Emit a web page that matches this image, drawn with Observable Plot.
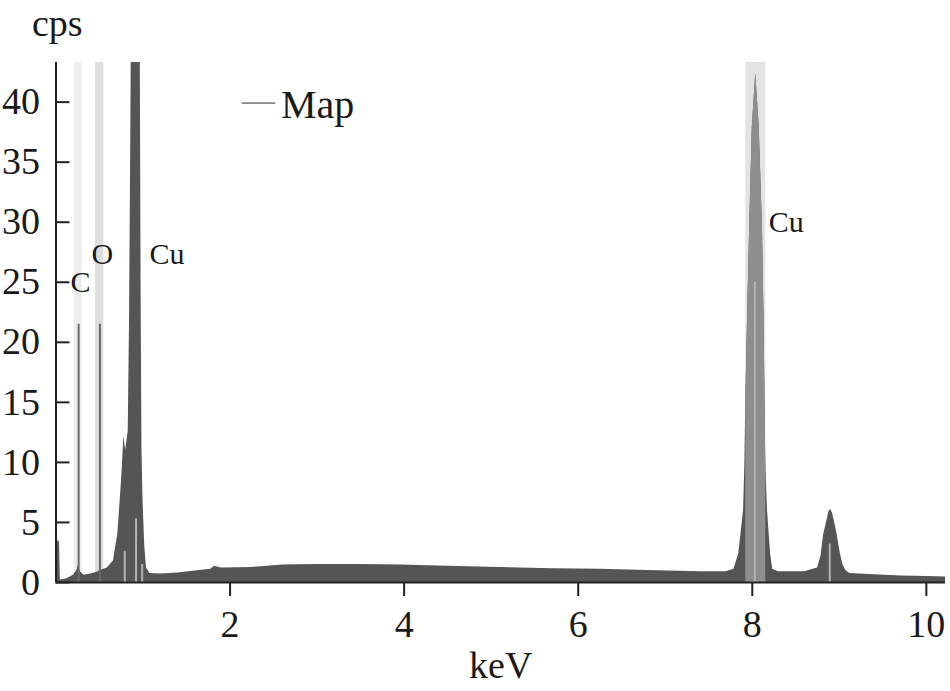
<!DOCTYPE html>
<html>
<head>
<meta charset="utf-8">
<script src="https://cdn.jsdelivr.net/npm/d3@7"></script>
<script src="https://cdn.jsdelivr.net/npm/@observablehq/plot@0.6"></script>
<style>
  html, body { margin: 0; padding: 0; background: #fff; }
  #chart { width: 950px; height: 691px; }
</style>
</head>
<body>
<div id="chart"></div>
<script>
// Spectrum (energy in keV, counts in cps)
const energyKeV = [
  0.005, 0.02, 0.04, 0.05, 0.12, 0.20, 0.24, 0.26, 0.28, 0.32, 0.40, 0.47, 0.51, 0.59, 0.66,
  0.71, 0.755, 0.78, 0.80, 0.83, 0.845, 0.86, 0.875, 0.965, 0.968, 0.978, 0.988, 1.00, 1.02,
  1.04, 1.08, 1.20, 1.40, 1.60, 1.78, 1.82, 1.90, 2.24, 2.61, 3.00, 3.50, 3.96, 4.50, 5.10,
  5.70, 6.26, 6.80, 7.41, 7.70, 7.79, 7.845, 7.90, 7.915, 7.925, 7.945, 7.97, 8.00, 8.04,
  8.08, 8.117, 8.135, 8.155, 8.175, 8.21, 8.235, 8.30, 8.60, 8.75, 8.79, 8.82, 8.857, 8.88,
  8.90, 8.92, 8.94, 8.975, 9.01, 9.04, 9.075, 9.12, 9.40, 9.71, 10.00, 10.22
];
const countsCps = [
  0.3, 3.5, 3.4, 0.2, 0.3, 0.6, 1.0, 1.5, 0.9, 0.6, 0.7, 0.85, 1.0, 1.2, 1.8,
  4.0, 8.7, 12.2, 11.0, 12.6, 22, 38, 60, 60, 45, 24, 11, 6.8, 3.0,
  1.2, 0.75, 0.7, 0.8, 0.95, 1.1, 1.35, 1.2, 1.25, 1.45, 1.5, 1.5, 1.45, 1.35, 1.25,
  1.15, 1.1, 1.0, 0.9, 0.9, 1.1, 2.4, 6.0, 9.9, 15, 21.8, 29.6, 37.9, 42.4,
  37.9, 29.6, 22, 9.9, 6.0, 2.4, 1.1, 0.9, 0.9, 1.2, 2.2, 4.0, 5.1, 5.9,
  6.1, 5.8, 5.2, 4.0, 2.5, 1.5, 1.0, 0.75, 0.65, 0.55, 0.5, 0.45
];

// Highlighted element windows (keV)
const bandStart = [0.213, 0.454, 7.925];
const bandEnd   = [0.300, 0.550, 8.155];
const bandShade = ["#ececec", "#dedede", "#e3e3e3"];

// Element marker lines
const markerKeV = [0.26, 0.505];
const markerCps = [21.5, 21.5];

// Faint line markers drawn over the peaks
const faintKeV = [0.79, 0.92, 0.99, 8.03, 8.89];
const faintCps = [2.6, 5.3, 1.5, 25, 3.2];

// Peak labels
const peakLabel = ["C", "O", "Cu", "Cu"];
const peakLabelKeV = [0.167, 0.408, 1.075, 8.19];
const peakLabelCps = [24.2, 26.5, 26.5, 29.2];

const xTicks = [2, 4, 6, 8, 10];
const yTicks = [0, 5, 10, 15, 20, 25, 30, 35, 40];
const xMax = 10.22;
const yMax = 43.3;

const spectrum = energyKeV.map((e, i) => ({e, c: countsCps[i]}));
const cuKaWindow = spectrum.filter(d => d.e >= bandStart[2] && d.e <= bandEnd[2]);
const bands = bandStart.map((s, i) => ({s, t: bandEnd[i], f: bandShade[i]}));
const markers = markerKeV.map((e, i) => ({e, c: markerCps[i]}));
const faint = faintKeV.map((e, i) => ({e, c: faintCps[i]}));
const labels = peakLabel.map((t, i) => ({t, e: peakLabelKeV[i], c: peakLabelCps[i]}));

const W = 950, H = 691, mL = 55.5, mR = 5, mT = 62, mB = 109;
const ink = "#1a1a1a";
const font = "'Liberation Serif', 'Times New Roman', serif";

const chart = Plot.plot({
  width: W,
  height: H,
  marginLeft: mL,
  marginRight: mR,
  marginTop: mT,
  marginBottom: mB,
  style: {fontFamily: font, fontSize: "38px", color: ink, background: "#fff"},
  x: {domain: [0, xMax]},
  y: {domain: [0, yMax]},
  marks: [
    Plot.rect(bands, {x1: "s", x2: "t", y1: 0, y2: yMax, fill: "f"}),
    Plot.areaY(spectrum, {x: "e", y: "c", fill: "#555555", curve: "linear", clip: true}),
    Plot.areaY(cuKaWindow, {x: "e", y: "c", fill: "#8e8e8e", curve: "linear", clip: true}),
    Plot.ruleX(faint, {x: "e", y1: 0, y2: "c", stroke: "#b4b4b4", strokeWidth: 2}),
    Plot.ruleX(markers, {x: "e", y1: 0, y2: "c", stroke: "#6a6a6a", strokeWidth: 2}),
    Plot.text(labels, {x: "e", y: "c", text: "t", textAnchor: "start", lineAnchor: "bottom", fontSize: 30, fill: ink}),
    // axes
    Plot.ruleX([0], {stroke: "#222", strokeWidth: 2}),
    Plot.ruleY([0], {stroke: "#222", strokeWidth: 2}),
    Plot.tickY(yTicks, {y: d => d, insetRight: (W - mL - mR) - 14, stroke: "#222", strokeWidth: 2}),
    Plot.axisY({ticks: yTicks, tickSize: 0, tickPadding: 16, fontSize: 38, label: null, fill: ink}),
    Plot.axisX({ticks: xTicks, tickSize: 14, tickPadding: 14, fontSize: 38, label: null, stroke: "#222", strokeWidth: 2, fill: ink}),
    // axis titles
    Plot.text(["cps"], {frameAnchor: "top-left", dx: -24, dy: -27, textAnchor: "start", lineAnchor: "bottom", fontSize: 38, fill: ink}),
    Plot.text(["keV"], {frameAnchor: "bottom", dy: 95, lineAnchor: "bottom", fontSize: 38, fill: ink}),
    // legend
    Plot.text(["—"], {frameAnchor: "top-left", dx: 186, dy: 48, textAnchor: "start", lineAnchor: "bottom", fontSize: 33, fill: "#8a8a8a"}),
    Plot.text(["Map"], {frameAnchor: "top-left", dx: 225, dy: 55, textAnchor: "start", lineAnchor: "bottom", fontSize: 40, fill: ink})
  ]
});
document.getElementById("chart").appendChild(chart);
</script>
</body>
</html>
